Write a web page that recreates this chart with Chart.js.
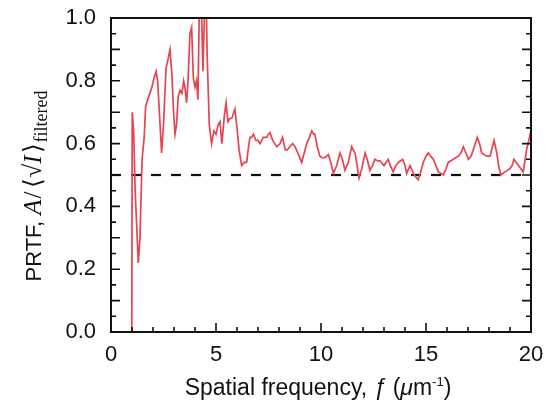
<!DOCTYPE html>
<html>
<head>
<meta charset="utf-8">
<script src="https://cdn.jsdelivr.net/npm/chart.js@4.4.1/dist/chart.umd.min.js"></script>
<style>
  html, body { margin: 0; padding: 0; background: #fff; }
  #wrap { width: 552px; height: 403px; }
</style>
</head>
<body>
<div id="wrap"><canvas id="prtfChart" width="552" height="403"></canvas></div>
<script>
// spatial frequency f (um^-1) and PRTF values
const freqs = [
  0.99, 1.01, 1.08, 1.15, 1.30, 1.38, 1.48, 1.58, 1.65, 1.75, 1.85, 1.95, 2.05, 2.15, 2.22, 2.32,
  2.41, 2.50, 2.62, 2.72, 2.81, 2.90, 2.98, 3.05, 3.12, 3.20, 3.29, 3.38, 3.46, 3.52, 3.60, 3.67,
  3.76, 3.84, 3.92, 4.00, 4.07, 4.14, 4.22, 4.30, 4.38, 4.45, 4.52, 4.58, 4.68, 4.79, 4.90, 5.00,
  5.10, 5.19, 5.28, 5.40, 5.48, 5.57, 5.66, 5.75, 5.90, 6.00, 6.10, 6.22, 6.35, 6.46, 6.55, 6.62,
  6.70, 6.78, 6.90, 7.00, 7.10, 7.25, 7.41, 7.50, 7.57, 7.70, 7.80, 7.89, 8.05, 8.17, 8.30, 8.40,
  8.52, 8.65, 8.76, 8.90, 9.08, 9.20, 9.32, 9.45, 9.56, 9.65, 9.71, 9.82, 9.95, 10.05, 10.19, 10.35,
  10.47, 10.59, 10.75, 10.90, 11.02, 11.14, 11.30, 11.46, 11.62, 11.72, 11.81, 11.94, 12.10, 12.20, 12.33, 12.45,
  12.57, 12.70, 12.81, 13.00, 13.20, 13.30, 13.44, 13.56, 13.68, 13.89, 14.00, 14.08, 14.24, 14.44, 14.63, 14.75,
  14.87, 15.00, 15.11, 15.22, 15.35, 15.47, 15.59, 15.83, 15.95, 16.06, 16.30, 16.54, 16.66, 16.78, 16.90, 17.02,
  17.15, 17.25, 17.44, 17.55, 17.65, 17.89, 18.05, 18.24, 18.37, 18.46, 18.56, 18.76, 19.00, 19.10, 19.19, 19.30,
  19.40, 19.63, 19.79, 20.00
];
const prtf = [
  0.00, 0.70, 0.64, 0.45, 0.22, 0.30, 0.55, 0.62, 0.72, 0.74, 0.76, 0.78, 0.81, 0.83, 0.80, 0.68,
  0.57, 0.66, 0.84, 0.87, 0.90, 0.82, 0.70, 0.63, 0.66, 0.75, 0.77, 0.76, 0.80, 0.78, 0.73, 0.80,
  0.95, 0.97, 0.81, 0.78, 0.80, 0.74, 1.10, 1.05, 0.83, 1.02, 1.10, 0.88, 0.66, 0.60, 0.64, 0.63,
  0.66, 0.67, 0.60, 0.69, 0.73, 0.67, 0.68, 0.68, 0.71, 0.65, 0.58, 0.53, 0.54, 0.54, 0.59, 0.62,
  0.62, 0.63, 0.61, 0.61, 0.60, 0.62, 0.62, 0.63, 0.635, 0.61, 0.60, 0.59, 0.60, 0.62, 0.58, 0.58,
  0.59, 0.60, 0.59, 0.57, 0.54, 0.57, 0.60, 0.62, 0.64, 0.63, 0.63, 0.59, 0.56, 0.555, 0.555, 0.565,
  0.54, 0.505, 0.53, 0.57, 0.55, 0.515, 0.54, 0.59, 0.57, 0.53, 0.49, 0.52, 0.57, 0.55, 0.515, 0.53,
  0.55, 0.545, 0.545, 0.53, 0.55, 0.53, 0.51, 0.53, 0.54, 0.55, 0.53, 0.505, 0.53, 0.50, 0.485, 0.51,
  0.54, 0.56, 0.57, 0.56, 0.55, 0.53, 0.51, 0.50, 0.52, 0.54, 0.55, 0.56, 0.57, 0.59, 0.57, 0.55,
  0.56, 0.58, 0.62, 0.60, 0.57, 0.56, 0.56, 0.61, 0.57, 0.53, 0.50, 0.51, 0.52, 0.53, 0.55, 0.54,
  0.53, 0.51, 0.58, 0.64
];
const threshold = 0.5;
const xTicks = [0, 5, 10, 15, 20];
const yTicks = [0.0, 0.2, 0.4, 0.6, 0.8, 1.0];

const FONT = 'Liberation Sans, Arial, Helvetica, sans-serif';
const SERIF = 'Liberation Serif, Times New Roman, serif';

// draws a row of text pieces with their own fonts, starting at x
function drawRuns(ctx, runs, x, y) {
  runs.forEach(r => {
    ctx.font = r.font;
    ctx.fillText(r.text, x, y + (r.dy || 0));
    x += ctx.measureText(r.text).width + (r.gap || 0);
  });
  return x;
}
function runsWidth(ctx, runs) {
  let w = 0;
  runs.forEach(r => { ctx.font = r.font; w += ctx.measureText(r.text).width + (r.gap || 0); });
  return w;
}

// frame, inward ticks and axis titles
const framePlugin = {
  id: 'frame',
  afterDraw(chart) {
    const ctx = chart.ctx;
    const a = chart.chartArea;
    const xs = chart.scales.x, ys = chart.scales.y;
    ctx.save();
    ctx.strokeStyle = '#111';
    ctx.lineWidth = 2;
    ctx.strokeRect(a.left, a.top, a.right - a.left, a.bottom - a.top);

    ctx.lineWidth = 1.6;
    ctx.beginPath();
    for (let v = 0; v <= 20; v++) {
      const px = xs.getPixelForValue(v);
      const len = v % 5 === 0 ? 9 : 5;
      ctx.moveTo(px, a.bottom);
      ctx.lineTo(px, a.bottom - len);
    }
    for (let i = 0; i <= 20; i++) {
      const py = ys.getPixelForValue(i * 0.05);
      const len = i % 2 === 0 ? 9 : 5;
      ctx.moveTo(a.left, py);
      ctx.lineTo(a.left + len, py);
      ctx.moveTo(a.right, py);
      ctx.lineTo(a.right - len, py);
    }
    ctx.stroke();

    ctx.fillStyle = '#111';
    ctx.textBaseline = 'alphabetic';
    // x title
    const xRuns = [
      { text: 'Spatial frequency, ', font: '23px ' + FONT },
      { text: 'ƒ', font: 'italic 23px ' + FONT },
      { text: ' (', font: '23px ' + FONT },
      { text: 'μ', font: 'italic 23px ' + FONT },
      { text: 'm', font: '23px ' + FONT },
      { text: '-1', font: '13px ' + FONT, dy: -9 },
      { text: ')', font: '23px ' + FONT }
    ];
    const xw = runsWidth(ctx, xRuns);
    drawRuns(ctx, xRuns, 318 - xw / 2, 395);

    // y title, rotated
    const yRuns = [
      { text: 'PRTF, ', font: '22px ' + FONT },
      { text: 'A', font: 'italic 25px ' + SERIF, gap: 1 },
      { text: '/', font: '25px ' + SERIF, gap: 3 },
      { text: '\u27E8', font: '25px ' + SERIF, gap: 1 },
      { text: '\u221A', font: '25px ' + SERIF },
      { text: 'I', font: 'italic 25px ' + SERIF, gap: 2 },
      { text: '\u27E9', font: '25px ' + SERIF, gap: 1 },
      { text: 'filtered', font: '18px ' + SERIF, dy: 6 }
    ];
    const yw = runsWidth(ctx, yRuns);
    ctx.translate(41, 186);
    ctx.rotate(-Math.PI / 2);
    drawRuns(ctx, yRuns, -yw / 2, 0);
    ctx.restore();
  }
};

const ctx = document.getElementById('prtfChart').getContext('2d');
window.myChart = new Chart(ctx, {
  type: 'scatter',
  data: {
    datasets: [{
      label: 'PRTF',
      data: freqs.map((f, i) => ({ x: f, y: prtf[i] })),
      showLine: true,
      borderColor: '#e64450',
      borderWidth: 1.7,
      pointRadius: 0,
      tension: 0
    }, {
      label: 'threshold',
      data: [{ x: 0, y: threshold }, { x: 20, y: threshold }],
      showLine: true,
      borderColor: '#111',
      borderWidth: 2.2,
      borderDash: [10, 10],
      pointRadius: 0
    }]
  },
  options: {
    responsive: false,
    animation: false,
    layout: { padding: { top: 18, right: 21, left: 0, bottom: 0 } },
    plugins: { legend: { display: false }, tooltip: { enabled: false } },
    scales: {
      x: {
        type: 'linear',
        min: 0, max: 20,
        afterBuildTicks: s => { s.ticks = xTicks.map(v => ({ value: v })); },
        afterFit: s => { s.height = 71; s.paddingLeft = 0; s.paddingRight = 0; },
        grid: { display: false, drawTicks: false },
        border: { display: false },
        ticks: { color: '#111', font: { family: FONT, size: 22 }, padding: 10, maxRotation: 0 }
      },
      y: {
        min: 0, max: 1.0,
        afterBuildTicks: s => { s.ticks = yTicks.map(v => ({ value: v })); },
        afterFit: s => { s.width = 111; s.paddingTop = 0; s.paddingBottom = 0; },
        grid: { display: false, drawTicks: false },
        border: { display: false },
        ticks: {
          color: '#111', font: { family: FONT, size: 22 }, padding: 15,
          callback: v => v.toFixed(1)
        }
      }
    }
  },
  plugins: [framePlugin]
});
</script>
</body>
</html>
